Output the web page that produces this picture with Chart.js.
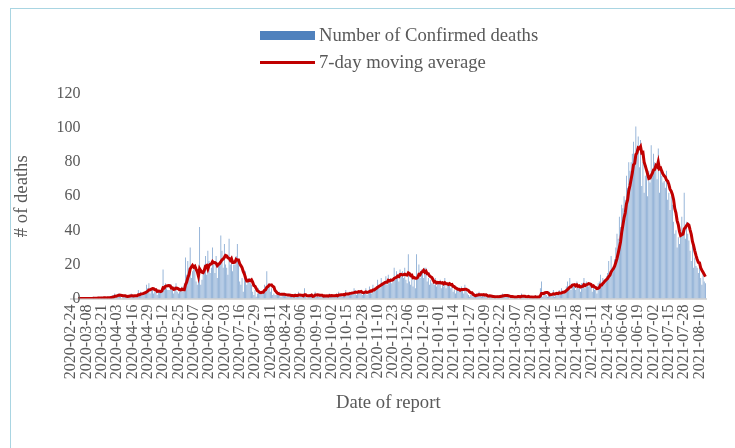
<!DOCTYPE html>
<html>
<head>
<meta charset="utf-8">
<script src="https://cdn.jsdelivr.net/npm/chart.js@4"></script>
<style>
    body { margin: 0; background: #fff; }
    #wrap { position: relative; width: 735px; height: 448px; overflow: hidden; }
    #frame { position: absolute; left: 10px; top: 8px; width: 800px; height: 500px; border: 1px solid #a9d5e2; }
    canvas { position: absolute; left: 0; top: 0; }
    .legend { position: absolute; left: 260px; font-family: 'Liberation Serif', 'Times New Roman', serif; font-size: 18.67px; color: #595959; }
    .legend .key { position: absolute; left: 0; width: 55px; }
    .legend span.txt { position: absolute; left: 59px; white-space: nowrap; }
</style>
</head>
<body>
<div id="wrap">
    <div id="frame"></div>
    <canvas id="deathsChart" width="735" height="448"></canvas>
    <div class="legend" style="top: 24px;">
        <div class="key" style="top: 7px; height: 9px; background: #4f81bd;"></div>
        <span class="txt" style="top: 0;">Number of Confirmed deaths</span>
    </div>
    <div class="legend" style="top: 51px;">
        <div class="key" style="top: 10px; height: 3px; background: #c00000;"></div>
        <span class="txt" style="top: 0;">7-day moving average</span>
    </div>
</div>
<script>
// Daily confirmed deaths from 2020-02-24, one line per week
const startDate = '2020-02-24';
const dailyDeaths = [
    0, 0, 0, 0, 0, 0, 0,
    0, 0, 0, 0, 0, 0, 0,
    0, 0, 0, 0, 0, 1, 0,
    0, 0, 1, 0, 0, 1, 0,
    1, 0, 0, 1, 0, 1, 1,
    2, 1, 3, 1, 2, 3, 2,
    1, 0, 2, 1, 2, 1, 1,
    2, 1, 3, 1, 1, 2, 1,
    2, 5, 3, 4, 2, 3, 3,
    4, 8, 6, 9, 3, 5, 6,
    3, 4, 6, 2, 5, 4, 4,
    6, 17, 5, 9, 6, 5, 5,
    5, 8, 6, 3, 7, 9, 4,
    3, 4, 5, 7, 4, 9, 24,
    14, 22, 18, 30, 12, 16, 17,
    18, 10, 8, 11, 42, 8, 11,
    16, 20, 25, 14, 28, 22, 15,
    18, 30, 20, 15, 25, 12, 20,
    22, 37, 28, 18, 32, 20, 18,
    14, 35, 20, 25, 16, 20, 20,
    25, 32, 20, 10, 8, 12, 4,
    14, 16, 8, 10, 12, 9, 8,
    4, 2, 5, 1, 3, 6, 4,
    3, 4, 5, 8, 6, 16, 7,
    9, 4, 6, 2, 3, 2, 2,
    3, 2, 4, 1, 3, 2, 2,
    2, 1, 3, 1, 2, 1, 2,
    1, 3, 2, 1, 4, 1, 1,
    1, 1, 6, 1, 0, 1, 1,
    2, 3, 1, 2, 4, 1, 2,
    1, 2, 1, 2, 1, 2, 1,
    2, 1, 3, 1, 2, 1, 1,
    2, 3, 1, 4, 2, 2, 1,
    3, 2, 5, 3, 2, 4, 2,
    4, 3, 6, 5, 2, 4, 4,
    3, 5, 2, 4, 3, 6, 2,
    4, 7, 5, 3, 8, 6, 6,
    7, 11, 8, 6, 12, 9, 9,
    10, 13, 8, 14, 9, 12, 9,
    12, 18, 11, 16, 14, 10, 17,
    13, 16, 12, 18, 11, 9, 26,
    10, 8, 14, 7, 12, 6, 26,
    14, 20, 12, 17, 15, 12, 18,
    18, 10, 12, 8, 11, 9, 9,
    8, 12, 7, 10, 9, 11, 6,
    10, 7, 12, 6, 9, 8, 9,
    6, 8, 4, 5, 3, 7, 5,
    6, 4, 7, 5, 3, 8, 5,
    3, 2, 1, 2, 3, 1, 2,
    1, 3, 2, 4, 2, 1, 2,
    2, 1, 3, 1, 0, 2, 1,
    1, 0, 2, 1, 0, 2, 1,
    2, 1, 3, 2, 1, 2, 1,
    1, 0, 1, 2, 0, 1, 1,
    1, 2, 1, 0, 3, 1, 1,
    1, 0, 1, 2, 0, 1, 1,
    0, 1, 2, 0, 1, 1, 6,
    10, 1, 2, 3, 2, 1, 2,
    4, 2, 3, 5, 1, 3, 3,
    3, 5, 2, 6, 4, 3, 5,
    7, 10, 6, 12, 5, 9, 7,
    8, 5, 10, 6, 7, 4, 9,
    9, 12, 6, 10, 8, 7, 8,
    7, 4, 8, 5, 6, 3, 9,
    10, 14, 8, 12, 11, 9, 13,
    15, 22, 14, 25, 18, 16, 23,
    30, 38, 35, 48, 42, 55, 53,
    60, 58, 72, 65, 80, 75, 80,
    85, 92, 78, 101, 88, 95, 77,
    93, 66, 80, 62, 72, 78, 60,
    75, 68, 90, 72, 85, 80, 76,
    70, 88, 62, 75, 72, 68, 69,
    65, 75, 58, 62, 52, 60, 55,
    45, 38, 40, 30, 36, 32, 38,
    48, 40, 62, 35, 45, 38, 34,
    28, 22, 32, 18, 24, 19, 18,
    15, 20, 12, 8, 16, 10, 9
];
const labelEvery = 13;   // one date label every 13 days
const yTicks = [0, 20, 40, 60, 80, 100, 120];

// Category labels: one per day
const dates = [];
const d0 = new Date(startDate + 'T00:00:00Z');
for (let i = 0; i < dailyDeaths.length; i++) {
    const d = new Date(d0.getTime() + i * 86400000);
    dates.push(d.toISOString().slice(0, 10));
}

// Trailing 7-day moving average (starts on the 7th day, like an Excel trendline)
const movingAvg = dailyDeaths.map((v, i) => {
    if (i < 6) return null;
    let sum = 0;
    for (let k = i - 6; k <= i; k++) sum += dailyDeaths[k];
    return sum / 7;
});

const serif = "'Liberation Serif', 'Times New Roman', serif";
const textColor = '#595959';

// Y tick labels sit a little over the plot's left edge, as in the Excel original,
// so they are drawn here instead of by the (clipped) scale
const yLabelsPlugin = {
    id: 'yLabels',
    afterDraw(chart) {
        const c = chart.ctx;
        const y = chart.scales.y;
        c.save();
        c.fillStyle = textColor;
        c.font = '16px ' + serif;
        c.textAlign = 'right';
        c.textBaseline = 'middle';
        yTicks.forEach(v => {
            c.fillText(String(v), chart.chartArea.left + 10, y.getPixelForValue(v));
        });
        c.restore();
    }
};

const ctx = document.getElementById('deathsChart').getContext('2d');
new Chart(ctx, {
    data: {
        labels: dates,
        datasets: [
            {
                type: 'line',
                label: '7-day moving average',
                data: movingAvg,
                borderColor: '#c00000',
                borderWidth: 3,
                pointRadius: 0,
                tension: 0,
                order: 0
            },
            {
                type: 'bar',
                label: 'Number of Confirmed deaths',
                data: dailyDeaths,
                backgroundColor: 'rgba(79, 129, 189, 0.7)',
                barPercentage: 1,
                categoryPercentage: 0.7,
                order: 1
            }
        ]
    },
    plugins: [yLabelsPlugin],
    options: {
        responsive: false,
        animation: false,
        layout: {
            padding: { left: 11, top: 94, right: 29, bottom: 30 }
        },
        plugins: {
            legend: { display: false },
            tooltip: { enabled: false }
        },
        scales: {
            x: {
                grid: { display: false, drawTicks: false },
                border: { display: true, color: '#d9d9d9', width: 2 },
                ticks: {
                    autoSkip: false,
                    maxRotation: 90,
                    minRotation: 90,
                    padding: 6,
                    color: textColor,
                    font: { family: serif, size: 16 },
                    callback: function (value, index) {
                        return index % labelEvery === 0 ? this.getLabelForValue(value) : '';
                    }
                },
                title: {
                    display: true,
                    text: 'Date of report',
                    color: textColor,
                    font: { family: serif, size: 18.67 },
                    padding: { top: 0, bottom: 4 }
                },
                afterFit: function (scale) { scale.height = 119.5; }
            },
            y: {
                min: 0,
                max: 120,
                afterBuildTicks: function (scale) {
                    scale.ticks = yTicks.map(v => ({ value: v }));
                },
                grid: { display: false, drawTicks: false },
                border: { display: false },
                ticks: { display: false },
                title: {
                    display: true,
                    text: '# of deaths',
                    color: textColor,
                    font: { family: serif, size: 18.67 },
                    padding: 0
                },
                afterFit: function (scale) { scale.width = 59.5; }
            }
        }
    }
});
</script>
</body>
</html>
